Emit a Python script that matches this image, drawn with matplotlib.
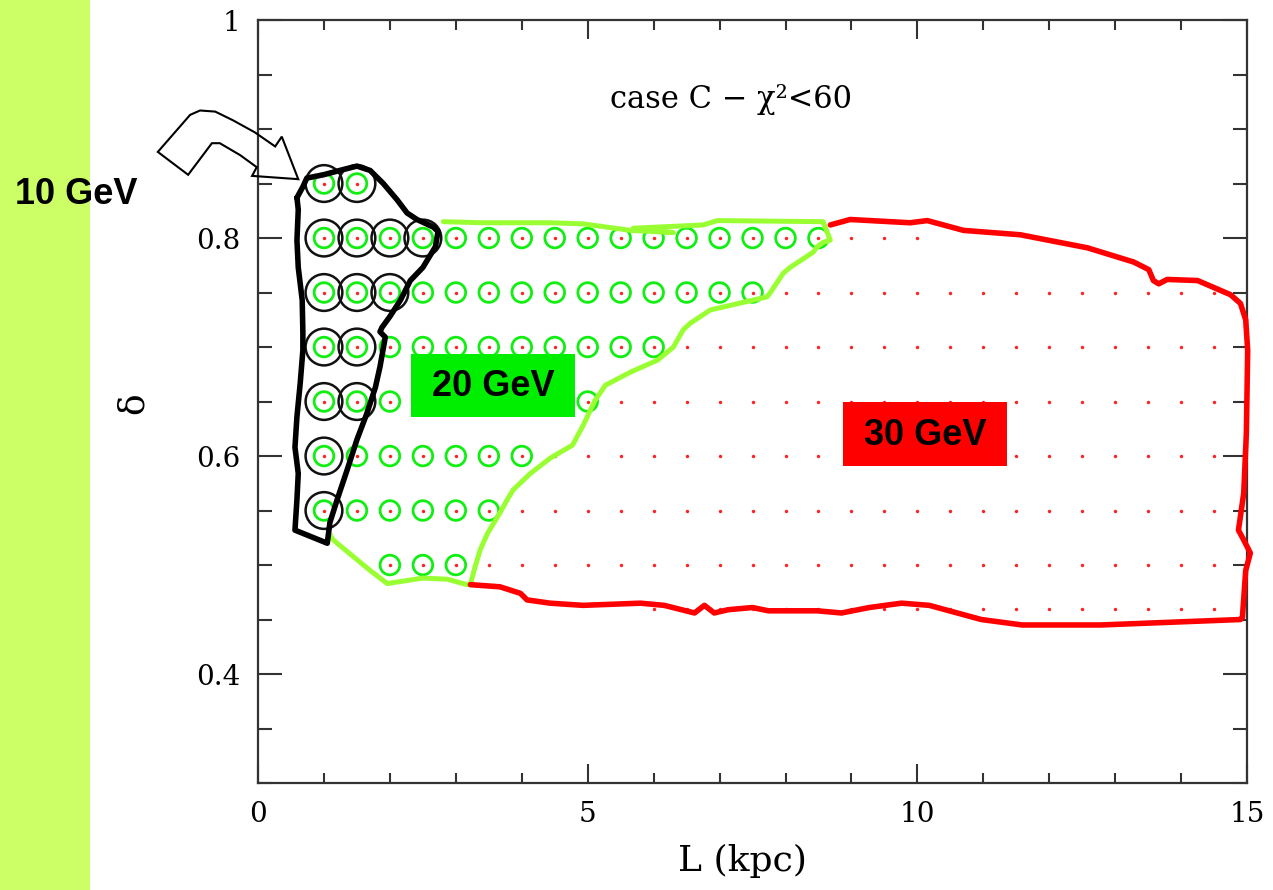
import numpy as np
import matplotlib
matplotlib.use('Agg')
import matplotlib.pyplot as plt
from matplotlib.patches import Rectangle, Polygon

# scan grid (rows of delta, L ranges with points in each row)
L_step = 0.5
delta_rows = [0.85, 0.80, 0.75, 0.70, 0.65, 0.60, 0.55, 0.50, 0.46]
red_L_start = [1.0, 1.0, 1.0, 1.0, 1.0, 1.0, 1.0, 2.0, 6.0]
red_L_end = [1.5, 10.0, 14.5, 14.5, 14.5, 14.5, 14.5, 14.5, 14.5]
green_L_start = [1.0, 1.0, 1.0, 1.0, 1.0, 1.0, 1.0, 2.0]
green_L_end = [1.5, 8.5, 7.5, 6.0, 5.0, 4.0, 3.5, 3.0]
black_L_start = [1.0, 1.0, 1.0, 1.0, 1.0, 1.0, 1.0]
black_L_end = [1.5, 2.5, 2.0, 1.5, 1.5, 1.0, 1.0]

# hand drawn contours (L, delta)
black_L = [0.59, 0.68, 0.74, 0.99, 1.24, 1.50, 1.70, 1.90, 2.11, 2.26, 2.41, 2.66, 2.73,
           2.69, 2.50, 2.31, 2.16, 2.00, 1.88, 1.85, 1.93, 1.85, 1.78, 1.65, 1.50, 1.35,
           1.20, 1.09, 1.05, 0.56, 0.59, 0.61, 0.56, 0.59, 0.64, 0.68, 0.68, 0.67, 0.61,
           0.59, 0.61, 0.59]
black_d = [0.837, 0.847, 0.855, 0.858, 0.862, 0.866, 0.862, 0.850, 0.835, 0.823, 0.817,
           0.810, 0.806, 0.792, 0.773, 0.761, 0.743, 0.728, 0.718, 0.714, 0.709, 0.682,
           0.663, 0.639, 0.615, 0.587, 0.560, 0.539, 0.520, 0.532, 0.560, 0.584, 0.608,
           0.636, 0.667, 0.697, 0.713, 0.743, 0.773, 0.798, 0.826, 0.837]

green_L = [2.81, 3.41, 4.43, 4.93, 5.65, 6.30, 5.69, 6.75, 6.97, 8.57, 8.68, 8.57, 8.48,
           8.42, 8.07, 7.97, 7.77, 7.72, 6.86, 6.56, 6.45, 6.30, 6.06, 5.65, 5.27, 5.11,
           4.93, 4.77, 4.43, 4.13, 3.87, 3.78, 3.67, 3.48, 3.37, 3.29, 3.22, 3.17, 2.87,
           2.50, 1.96, 1.70, 1.14, 1.09]
green_d = [0.815, 0.814, 0.814, 0.813, 0.807, 0.805, 0.809, 0.812, 0.816, 0.815, 0.798,
           0.796, 0.792, 0.787, 0.773, 0.768, 0.750, 0.746, 0.734, 0.722, 0.716, 0.700,
           0.688, 0.677, 0.665, 0.651, 0.628, 0.610, 0.598, 0.584, 0.569, 0.560, 0.548,
           0.529, 0.514, 0.498, 0.482, 0.482, 0.487, 0.488, 0.483, 0.495, 0.523, 0.528]

red_L = [3.22, 3.67, 3.98, 4.08, 4.43, 4.93, 5.80, 6.16, 6.62, 6.77, 6.92, 7.13, 7.50,
         7.74, 8.48, 8.85, 9.27, 9.76, 10.18, 10.97, 11.59, 12.78, 14.90, 14.93, 14.98,
         15.05, 14.95, 14.87, 14.95, 14.99, 15.01, 14.98, 14.90, 14.75, 14.25, 13.79,
         13.66, 13.58, 13.51, 13.28, 12.58, 11.56, 10.70, 10.15, 9.89, 8.98, 8.68]
red_d = [0.482, 0.480, 0.474, 0.468, 0.465, 0.463, 0.465, 0.463, 0.456, 0.463, 0.456,
         0.459, 0.461, 0.458, 0.458, 0.456, 0.461, 0.465, 0.463, 0.450, 0.445, 0.445,
         0.450, 0.452, 0.495, 0.511, 0.523, 0.532, 0.566, 0.621, 0.697, 0.725, 0.740,
         0.748, 0.761, 0.762, 0.758, 0.761, 0.771, 0.778, 0.791, 0.803, 0.807, 0.816,
         0.814, 0.817, 0.812]

arrow_L = [-1.52, -1.03, -0.88, -0.65, -0.38, -0.05, 0.26, 0.36, 0.61, -0.09, -0.02,
           -0.27, -0.58, -0.70, -1.06]
arrow_d = [0.879, 0.913, 0.917, 0.916, 0.908, 0.897, 0.884, 0.893, 0.854, 0.857, 0.865,
           0.876, 0.887, 0.887, 0.858]


def row_points(starts, ends):
    xs, ys = [], []
    for d, a, b in zip(delta_rows, starts, ends):
        L = np.arange(a, b + L_step / 2, L_step)
        xs.extend(L)
        ys.extend([d] * len(L))
    return np.array(xs), np.array(ys)


fig = plt.figure(figsize=(12.73, 8.90), dpi=100)
fig.add_artist(Rectangle((0, 0), 90 / 1273, 1, transform=fig.transFigure,
                         facecolor='#ccff66', edgecolor='none', zorder=0))

ax = fig.add_axes([0.2027, 0.1202, 0.7769, 0.8573])
ax.set_xlim(0, 15)
ax.set_ylim(0.3, 1.0)

serif = 'DejaVu Serif'
ax.set_xticks([0, 5, 10, 15])
ax.set_xticklabels(['0', '5', '10', '15'], family=serif, fontsize=20)
ax.set_xticks(np.arange(0, 16, 1), minor=True)
ax.set_yticks([0.4, 0.6, 0.8, 1.0])
ax.set_yticklabels(['0.4', '0.6', '0.8', '1'], family=serif, fontsize=20)
ax.set_yticks(np.arange(0.3, 1.0, 0.05), minor=True)
ax.tick_params(which='both', direction='in', top=True, right=True, width=1.5,
               color='#333333', pad=13)
ax.tick_params(axis='x', which='major', length=14)
ax.tick_params(axis='x', which='minor', length=7)
ax.tick_params(axis='y', which='major', length=17)
ax.tick_params(axis='y', which='minor', length=10)
for s in ax.spines.values():
    s.set_linewidth(1.6)
    s.set_color('#333333')

ax.set_xlabel('L (kpc)', family=serif, fontsize=26)
ax.xaxis.set_label_coords(0.49, -0.080)
ax.set_ylabel('δ', family=serif, fontsize=26, rotation=90)
ax.yaxis.set_label_coords(-0.109, 0.498)

# grid points
rx, ry = row_points(red_L_start, red_L_end)
gx, gy = row_points(green_L_start, green_L_end)
bx, by = row_points(black_L_start, black_L_end)
ax.scatter(bx, by, s=700, facecolors='none', edgecolors='#111111', linewidths=1.8, zorder=2)
ax.scatter(gx, gy, s=200, facecolors='none', edgecolors='#11ee11', linewidths=2.0, zorder=3)
ax.scatter(rx, ry, s=6, color='#ff2020', linewidths=0, zorder=4)

# contours
ax.plot(green_L, green_d, color='#99ff33', lw=3.6, solid_joinstyle='round',
        solid_capstyle='round', zorder=5)
ax.plot(red_L, red_d, color='#ff0000', lw=4.0, solid_joinstyle='round',
        solid_capstyle='round', zorder=5, clip_on=False)
ax.plot(black_L, black_d, color='black', lw=4.0, solid_joinstyle='round',
        solid_capstyle='round', zorder=6)

# arrow pointing to the 10 GeV region
ax.add_patch(Polygon(np.column_stack([arrow_L, arrow_d]), closed=True, facecolor='none',
                     edgecolor='black', lw=1.5, clip_on=False, zorder=7))

ax.text(7.18, 0.927, 'case C − χ²<60', family=serif, fontsize=22, ha='center', va='center')

# labelled boxes
ax.add_patch(Rectangle((2.32, 0.636), 2.489, 0.058, facecolor='#00ee00', edgecolor='none', zorder=8))
ax.text(3.566, 0.664, '20 GeV', family='Liberation Sans', weight='bold', fontsize=26,
        ha='center', va='center', zorder=9)
ax.add_patch(Rectangle((8.877, 0.591), 2.489, 0.059, facecolor='#ff0000', edgecolor='none', zorder=8))
ax.text(10.12, 0.619, '30 GeV', family='Liberation Sans', weight='bold', fontsize=26,
        ha='center', va='center', zorder=9)
fig.text(0.0597, 0.781, '10 GeV', family='Liberation Sans', weight='bold', fontsize=26,
         ha='center', va='center')

fig.savefig('out.png', dpi=100)
